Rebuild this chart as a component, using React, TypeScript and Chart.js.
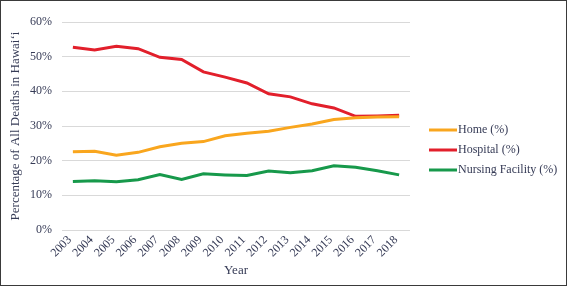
import React, { useEffect, useRef } from "react";
import { Chart, registerables } from "chart.js";

Chart.register(...registerables);

const years = ["2003","2004","2005","2006","2007","2008","2009","2010","2011","2012","2013","2014","2015","2016","2017","2018"];
const home = [22.6,22.7,21.6,22.4,24.0,25.0,25.5,27.2,27.9,28.5,29.6,30.6,31.9,32.4,32.6,32.7];
const hospital = [52.7,51.9,53.0,52.3,49.8,49.2,45.6,44.1,42.4,39.3,38.4,36.4,35.2,32.8,32.9,33.1];
const nursing = [14.0,14.2,13.9,14.5,16.0,14.6,16.2,15.9,15.7,17.0,16.5,17.1,18.5,18.1,17.1,15.9];
const seriesLabels = ["Home (%)", "Hospital (%)", "Nursing Facility (%)"];
const seriesColors = ["#F9A61E", "#E21F2B", "#17994B"];

const TEXT = "#363b56";
const FONT = "'Liberation Serif', 'DejaVu Serif', serif";

const legendPlugin = {
  id: "sideLegend",
  afterDraw(chart: any) {
    const { ctx, chartArea } = chart;
    const x0 = chartArea.right + 19;
    const y0 = chartArea.top + 108;
    ctx.save();
    chart.data.datasets.forEach((ds: any, i: number) => {
      const y = y0 + i * 20;
      ctx.strokeStyle = ds.borderColor;
      ctx.lineWidth = 3;
      ctx.beginPath();
      ctx.moveTo(x0, y);
      ctx.lineTo(x0 + 28, y);
      ctx.stroke();
      ctx.fillStyle = TEXT;
      ctx.font = `12px ${FONT}`;
      ctx.textBaseline = "middle";
      ctx.textAlign = "left";
      ctx.fillText(ds.label, x0 + 29, y);
    });
    ctx.restore();
  },
};

export default function App() {
  const ref = useRef<HTMLCanvasElement>(null);
  useEffect(() => {
    document.body.style.margin = "0";
    const chart = new Chart(ref.current!, {
      type: "line",
      data: {
        labels: years,
        datasets: [home, hospital, nursing].map((d, i) => ({
          label: seriesLabels[i],
          data: d,
          borderColor: seriesColors[i],
          backgroundColor: seriesColors[i],
          borderWidth: 3,
          pointRadius: 0,
          tension: 0,
          fill: false,
        })),
      },
      options: {
        animation: false,
        responsive: false,
        layout: { padding: { left: 4, right: 158, top: 22, bottom: 8 } },
        plugins: { legend: { display: false }, tooltip: { enabled: false } },
        scales: {
          x: {
            offset: true,
            grid: { display: false, drawTicks: false },
            border: { display: false },
            afterFit: (s: any) => { s.height = 48; },
            ticks: {
              color: TEXT,
              font: { family: FONT, size: 12 },
              minRotation: 45,
              maxRotation: 45,
              autoSkip: false,
              padding: 3,
              labelOffset: -3,
            },
            title: {
              display: true,
              text: "Year",
              color: TEXT,
              font: { family: FONT, size: 13 },
              padding: { top: 0, bottom: 0 },
            },
          },
          y: {
            min: 0,
            max: 60,
            afterFit: (s: any) => { s.width = 58; },
            grid: { color: "#d9d9d9", lineWidth: 1, drawTicks: false },
            border: { display: false },
            ticks: {
              stepSize: 10,
              color: TEXT,
              font: { family: FONT, size: 12 },
              padding: 10,
              callback: (v: any) => `${v}%`,
            },
            title: {
              display: true,
              text: "Percentage of All Deaths in Hawaiʻi",
              color: TEXT,
              font: { family: FONT, size: 13 },
              padding: { top: 4, bottom: 4 },
            },
          },
        },
      },
      plugins: [legendPlugin],
    });
    return () => chart.destroy();
  }, []);
  return (
    <div style={{ position: "relative", width: 568, height: 286 }}>
      <canvas ref={ref} width={568} height={286} style={{ display: "block" }} />
      <div
        style={{
          position: "absolute",
          left: 0,
          top: 0,
          width: 567,
          height: 286,
          boxSizing: "border-box",
          border: "1.5px solid #3a3a3a",
          pointerEvents: "none",
        }}
      />
    </div>
  );
}
